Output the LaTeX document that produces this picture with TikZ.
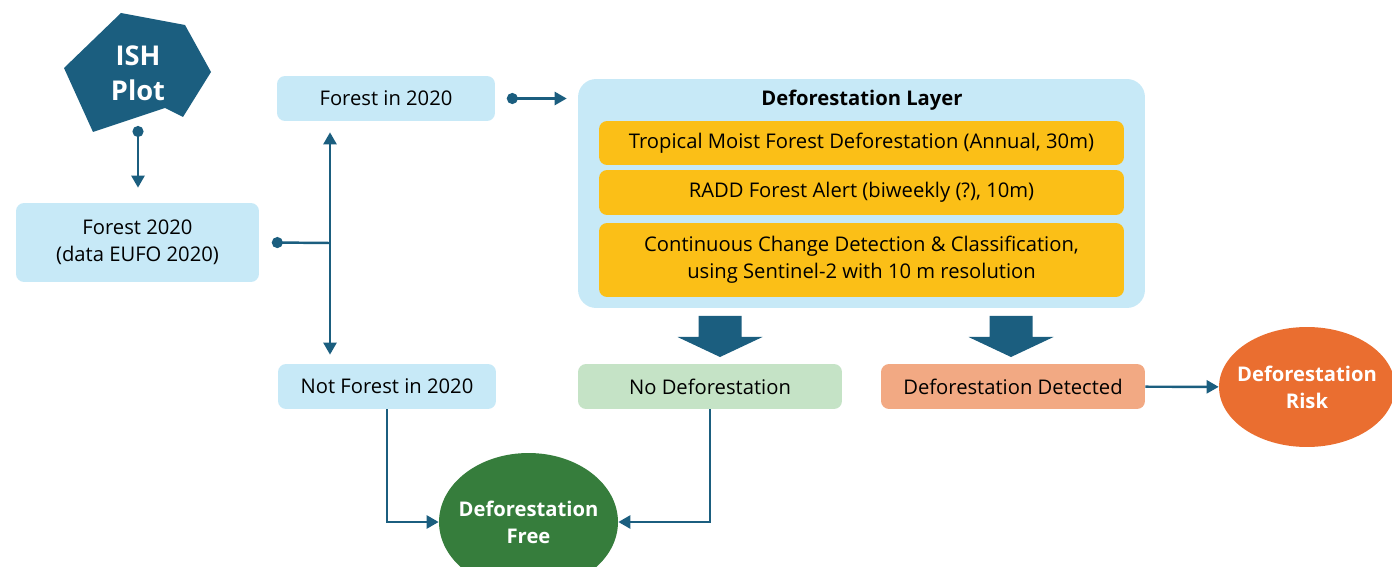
\documentclass[tikz,border=0pt]{standalone}
\usepackage{fontspec}
\setmainfont{Open Sans}
\usepackage{tikz}
\usetikzlibrary{arrows.meta, shapes.geometric, calc}
\definecolor{dk}{HTML}{1B5E7F}
\definecolor{lblue}{HTML}{C7E9F7}
\definecolor{gold}{HTML}{FBBF17}
\definecolor{lgreen}{HTML}{C5E3C6}
\definecolor{salmon}{HTML}{F2A983}
\definecolor{rorange}{HTML}{EA6E30}
\definecolor{fgreen}{HTML}{367D3C}
\tikzset{
box/.style={rounded corners=0.16cm, inner sep=0pt, align=center, font=\fontsize{11.5}{15.4}\selectfont},
blob/.style={ellipse, inner sep=-0.4cm, text=white, align=center, font=\fontsize{11.5}{15.4}\selectfont\bfseries},
stem/.style={dk, line width=1.4pt},
con/.style={stem, -{Triangle[length=2.4mm,width=2.6mm]}},
dotcon/.style={stem, {Circle[length=2.2mm]}-{Triangle[length=2.4mm,width=2.6mm]}}
}
\begin{document}
\begin{tikzpicture}[x=0.02cm, y=-0.02cm]
\useasboundingbox (0,0) rectangle (1392,567);
% plot shape
\fill[dk] (121,13) -- (185,25) -- (211,72) -- (183,117) -- (165,108) -- (93,132) -- (64,68) -- cycle;
\node[font=\fontsize{15.5}{20}\selectfont\bfseries, text=white, align=center] (ish) at (138,73) {ISH\\Plot};
\coordinate (ishb) at (138,126);

% left column
\node[box, fill=lblue, minimum width=4.86cm, minimum height=1.58cm] (f20) at (137.5,242.5) {Forest 2020\\(data EUFO 2020)};
\node[box, fill=lblue, minimum width=4.36cm, minimum height=0.9cm] (fin) at (386,98.5) {Forest in 2020};
\node[box, fill=lblue, minimum width=4.36cm, minimum height=0.9cm] (nfin) at (387,386.5) {Not Forest in 2020};

% layer
\node[box, rounded corners=0.36cm, fill=lblue, minimum width=11.34cm, minimum height=4.58cm] (layer) at (861.5,193.5) {};
\node[font=\fontsize{11.5}{15}\selectfont\bfseries] (ltitle) at (862,100) {Deforestation Layer};
\node[box, fill=gold, minimum width=10.5cm, minimum height=0.88cm] (tmf) at (861.5,143) {Tropical Moist Forest Deforestation (Annual, 30m)};
\node[box, fill=gold, minimum width=10.5cm, minimum height=0.9cm] (radd) at (861.5,192.5) {RADD Forest Alert (biweekly (?), 10m)};
\node[box, fill=gold, minimum width=10.5cm, minimum height=1.48cm] (ccdc) at (861.5,260) {Continuous Change Detection \& Classification,\\using Sentinel-2 with 10 m resolution};

% results
\node[box, fill=lgreen, minimum width=5.28cm, minimum height=0.9cm] (nodef) at (710,386.5) {No Deforestation};
\node[box, fill=salmon, minimum width=5.28cm, minimum height=0.9cm] (det) at (1013,386.5) {Deforestation Detected};
\node[blob, fill=rorange, minimum width=3.52cm, minimum height=2.4cm] (risk) at (1307,387) {Deforestation\\Risk};
\node[blob, fill=fgreen, minimum width=3.58cm, minimum height=2.76cm] (free) at (528.5,522) {Deforestation\\Free};

\foreach \x in {720,1011}
\fill[dk] (\x-21.5,316) -- (\x+21.5,316) -- (\x+21.5,337) -- (\x+42.5,337) -- (\x,357) -- (\x-42.5,337) -- (\x-21.5,337) -- cycle;

% connectors
\coordinate (j) at (330,243);
\coordinate (f20o) at ([xshift=0.25cm]f20.east);
\coordinate (fino) at ([xshift=0.23cm]fin.east);
\draw[dotcon, shorten >=0.3cm] (ishb) -- (ishb |- f20.north);
\draw[stem, {Circle[length=2.2mm]}-] (f20o) -- (j);
\draw[con, shorten >=0.22cm] (j) -- (j |- fin.south);
\draw[con, shorten >=0.18cm] (j) -- (j |- nfin.north);
\draw[dotcon, shorten >=0.22cm] (fino) -- (fino -| layer.west);
\draw[con] (det) -- (risk);
\draw[con] (nfin.south) |- (free);
\draw[con] (nodef.south) |- (free);
\end{tikzpicture}
\end{document}
